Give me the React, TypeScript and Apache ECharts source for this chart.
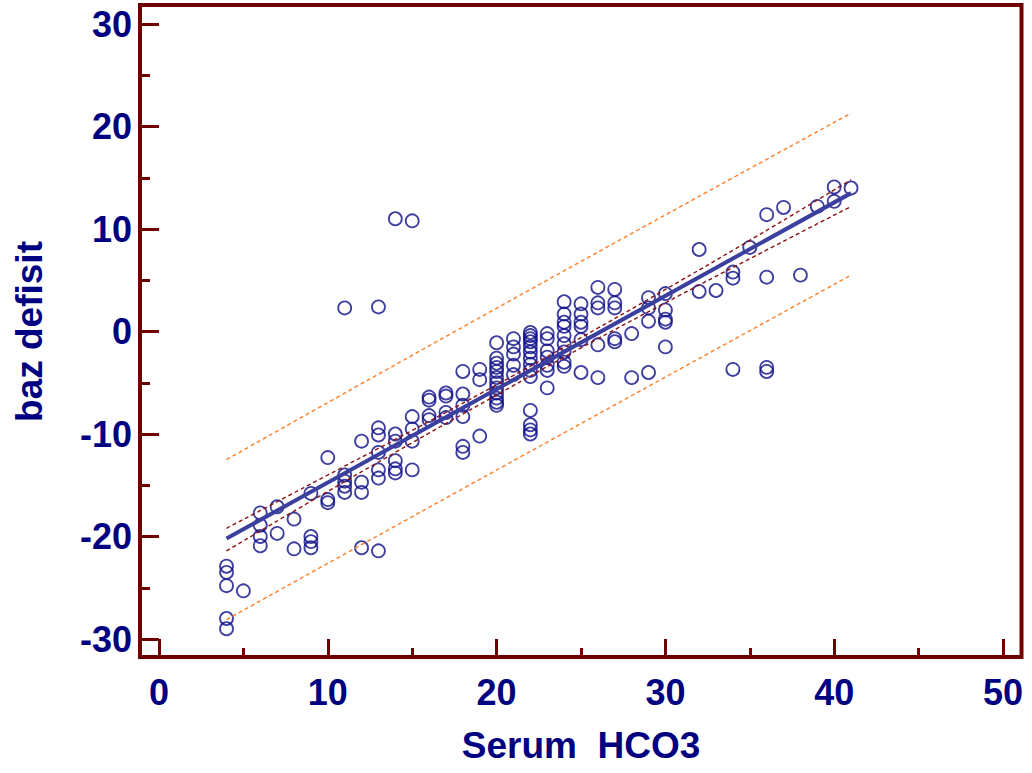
import React, { useEffect, useRef } from "react";
import * as echarts from "echarts";

// Serum HCO3 values (columns) and the baz defisit values observed at each
const hco3Columns = [4, 5, 6, 7, 8, 9, 10, 11, 12, 13, 14, 15, 16, 17, 18, 19, 20, 21, 22, 23, 24, 25, 26, 27, 28, 29, 30, 32, 33, 34, 35, 36, 37, 38, 39, 40, 41];
const bazDefisitColumns = [
  [-22.9, -23.5, -24.8, -28.0, -29.0],
  [-25.3],
  [-17.7, -18.9, -20.0, -20.9],
  [-17.1, -19.7],
  [-18.3, -21.2],
  [-15.8, -20.0, -20.5, -21.1],
  [-12.3, -16.4, -16.7],
  [2.3, -14.0, -14.6, -15.1, -15.7],
  [-10.7, -14.7, -15.7, -21.1],
  [2.4, -9.4, -10.1, -11.8, -13.5, -14.3, -21.4],
  [11.0, -10.0, -10.7, -12.6, -13.4, -13.8],
  [10.8, -8.3, -9.5, -10.7, -13.5],
  [-6.4, -6.7, -8.2, -8.6],
  [-6.0, -6.3, -7.9, -8.4],
  [-3.9, -6.1, -7.2, -8.3, -11.2, -11.8],
  [-3.7, -4.7, -10.2],
  [-1.1, -2.6, -3.1, -3.5, -3.9, -4.5, -5.0, -5.5, -6.0, -6.5, -6.9, -7.2],
  [-0.7, -1.5, -2.2, -3.3, -4.2],
  [-0.1, -0.4, -0.7, -1.0, -1.5, -2.0, -2.6, -3.2, -3.8, -4.4, -7.7, -9.1, -9.6, -10.0],
  [-0.2, -0.7, -1.9, -2.5, -3.3, -3.8, -5.5],
  [2.9, 1.7, 0.9, 0.5, -0.4, -1.2, -2.0, -3.0, -3.4],
  [2.7, 1.7, 0.9, 0.5, -0.8, -4.0],
  [4.3, 2.8, 2.3, -1.3, -4.5],
  [4.1, 2.8, 2.3, -0.7, -1.0],
  [-0.2, -4.5],
  [3.3, 2.3, 1.0, -4.0],
  [3.7, 2.1, 1.2, 0.9, -1.5],
  [8.0, 3.9],
  [4.0],
  [5.8, 5.2, -3.7],
  [8.2],
  [11.4, 5.3, -3.5, -3.9],
  [12.1],
  [5.5],
  [12.2],
  [14.1, 12.7],
  [14.0],
];

// Regression line
const fitX = [4, 41];
const fitY = [-20.2, 13.5];

// 95% confidence band of the regression line
const ciX = [4, 10, 15, 20, 25, 30, 35, 41];
const ciUpper = [-19.2, -14.0, -9.65, -5.2, -0.6, 4.1, 8.9, 14.8];
const ciLower = [-21.4, -15.6, -10.85, -6.2, -1.6, 2.8, 7.1, 12.2];

// 95% prediction band
const piX = [4, 22, 41];
const piUpper = [-12.5, 4.1, 21.3];
const piLower = [-28.1, -11.7, 5.5];

const xTicks = { min: 0, max: 50, interval: 10 };
const yTicks = { min: -30, max: 30, interval: 10 };

const FRAME = "#700000";
const NAVY = "#000080";
const FONT = "Liberation Sans, Arial, sans-serif";

export default function App() {
  const ref = useRef<HTMLDivElement>(null);

  useEffect(() => {
    if (!ref.current) return;
    const chart = echarts.init(ref.current, undefined, { renderer: "svg" });

    const points: number[][] = [];
    hco3Columns.forEach((x, i) => {
      bazDefisitColumns[i].forEach((y) => points.push([x, y]));
    });
    const pair = (xs: number[], ys: number[]) => xs.map((x, i) => [x, ys[i]]);

    const tickStyle = { color: FRAME, width: 3 };

    chart.setOption({
      animation: false,
      backgroundColor: "#ffffff",
      grid: { left: 159, right: 29, top: 24, bottom: 134, containLabel: false },
      xAxis: {
        type: "value",
        min: xTicks.min,
        max: xTicks.max,
        interval: xTicks.interval,
        offset: 18,
        axisLine: { show: false, onZero: false },
        axisTick: { show: true, inside: true, length: 18, lineStyle: tickStyle },
        minorTick: { show: true, splitNumber: 2, length: 9, lineStyle: tickStyle },
        splitLine: { show: false },
        axisLabel: {
          color: NAVY,
          fontSize: 36,
          fontWeight: "bold",
          fontFamily: FONT,
          margin: 17,
        },
        name: "Serum  HCO3",
        nameLocation: "middle",
        nameGap: 70,
        nameTextStyle: {
          color: NAVY,
          fontSize: 37,
          fontWeight: "bold",
          fontFamily: FONT,
        },
      },
      yAxis: {
        type: "value",
        min: yTicks.min,
        max: yTicks.max,
        interval: yTicks.interval,
        offset: 19,
        axisLine: { show: false, onZero: false },
        axisTick: { show: true, inside: true, length: 19, lineStyle: tickStyle },
        minorTick: { show: true, splitNumber: 2, length: 10, lineStyle: tickStyle },
        splitLine: { show: false },
        axisLabel: {
          color: NAVY,
          fontSize: 36,
          fontWeight: "bold",
          fontFamily: FONT,
          margin: 8,
        },
        name: "baz defisit",
        nameLocation: "middle",
        nameGap: 92,
        nameTextStyle: {
          color: NAVY,
          fontSize: 37,
          fontWeight: "bold",
          fontFamily: FONT,
        },
      },
      graphic: [
        {
          type: "rect",
          shape: { x: 140, y: 5, width: 881.5, height: 652 },
          style: { fill: "none", stroke: FRAME, lineWidth: 4 },
          silent: true,
          z: 10,
        },
      ],
      series: [
        {
          type: "scatter",
          data: points,
          symbol: "circle",
          symbolSize: 13,
          clip: false,
          itemStyle: { color: "rgba(0,0,0,0)", borderColor: "#0e0e88", borderWidth: 1.8 },
          z: 2,
        },
        {
          type: "line",
          data: pair(piX, piUpper),
          showSymbol: false,
          smooth: true,
          lineStyle: { color: "#ff7f27", width: 1.4, type: [4, 3] },
          z: 3,
        },
        {
          type: "line",
          data: pair(piX, piLower),
          showSymbol: false,
          smooth: true,
          lineStyle: { color: "#ff7f27", width: 1.4, type: [4, 3] },
          z: 3,
        },
        {
          type: "line",
          data: pair(ciX, ciUpper),
          showSymbol: false,
          smooth: true,
          lineStyle: { color: "#8b1010", width: 1.4, type: [4, 3] },
          z: 3,
        },
        {
          type: "line",
          data: pair(ciX, ciLower),
          showSymbol: false,
          smooth: true,
          lineStyle: { color: "#8b1010", width: 1.4, type: [4, 3] },
          z: 3,
        },
        {
          type: "line",
          data: pair(fitX, fitY),
          showSymbol: false,
          lineStyle: { color: "#3b3f9e", width: 4 },
          z: 4,
        },
      ],
    });

    return () => chart.dispose();
  }, []);

  return <div ref={ref} style={{ width: 1032, height: 773, position: "absolute", left: 0, top: 0 }} />;
}
